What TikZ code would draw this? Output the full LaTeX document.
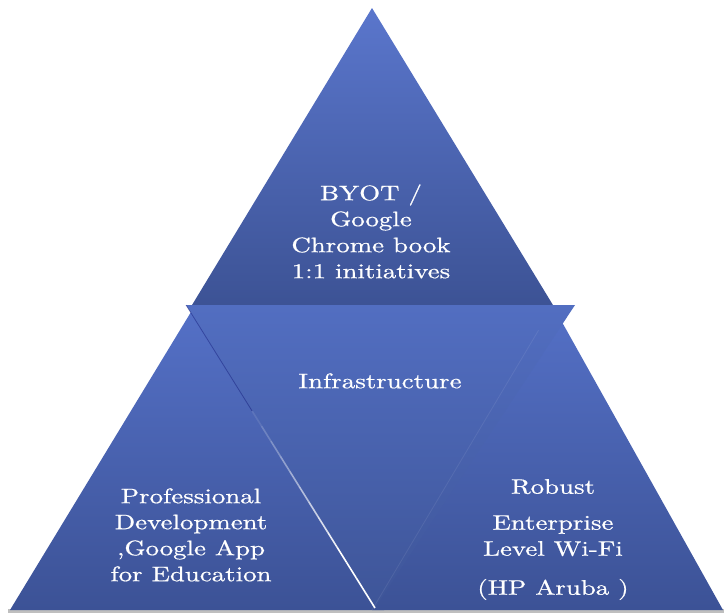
\documentclass[tikz,border=0pt]{standalone}
\usepackage{fontspec}
\usepackage{graphicx}
\usetikzlibrary{calc}
\newfontfamily\lblfont{lmroman10-regular.otf}[FakeBold=0.6]
\definecolor{tTop}{RGB}{90,118,204}
\definecolor{tBot}{RGB}{60,82,148}
\definecolor{cTop}{RGB}{82,110,193}
\definecolor{cBot}{RGB}{62,85,152}
\definecolor{sTop}{RGB}{84,112,198}
\definecolor{sBot}{RGB}{60,82,150}
\tikzset{
  lbl/.style={text=white, inner sep=0pt, font=\lblfont\fontsize{21}{26}\selectfont},
}
\newcommand{\wide}[1]{\scalebox{1.28}[1]{\begin{tabular}{@{}c@{}}#1\end{tabular}}}
\begin{document}
\begin{tikzpicture}[x=1pt,y=-1pt]
\useasboundingbox (0,0) rectangle (724,613);
% coordinates
\coordinate (tA) at (372,8);
\coordinate (tL) at (189,310);
\coordinate (tR) at (556,310);
\coordinate (lA) at (191,312);
\coordinate (lL) at (10,610);
\coordinate (lR) at (384,610);
\coordinate (rA) at (553,306);
\coordinate (rL) at (372,610);
\coordinate (rR) at (723,610);
\coordinate (cL) at (186,305);
\coordinate (cR) at (575,305);
\coordinate (cB) at (375,608);
% bottom shadow
\fill[black!25] (8,609) rectangle (724,613);
% top triangle
\shade[top color=tTop, bottom color=tBot] (tA) -- (tL) -- (tR) -- cycle;
% left and right triangles
\shade[top color=sTop, bottom color=sBot] (lA) -- (lL) -- (lR) -- cycle;
\shade[top color=sTop, bottom color=sBot] (rA) -- (rL) -- (rR) -- cycle;
% center inverted triangle
\shade[top color=cTop, bottom color=cBot] (cL) -- (cR) -- (cB) -- cycle;
% edge lines
\draw[black!60!blue, opacity=0.35, line width=0.8pt] (cL) -- ($(cL)!0.35!(cB)$);
\foreach \i in {0,...,12}{
  \pgfmathsetmacro{\a}{0.35+\i*0.05}
  \pgfmathsetmacro{\b}{0.35+(\i+1)*0.05}
  \pgfmathsetmacro{\o}{min(1,0.1+\i*0.1)}
  \draw[white, opacity=\o, line width=1.6pt] ($(cL)!\a!(cB)$) -- ($(cL)!\b!(cB)$);
}
\draw[white, opacity=0.08, line width=0.8pt] ($(rA)!0.08!(rL)$) -- (rL);
% labels
\node[lbl] (top) at (371,234) {\wide{BYOT /\\Google\\Chrome book\\1:1 initiatives}};
\node[lbl] (infra) at (380,383) {\wide{Infrastructure}};
\node[lbl] (left) at (191,537) {\wide{Professional\\Development\\,Google App\\for Education}};
\node[lbl] (right) at (553,539) {\wide{Robust\\[10pt]Enterprise\\Level Wi-Fi\\[13pt](HP Aruba )}};
\end{tikzpicture}
\end{document}
